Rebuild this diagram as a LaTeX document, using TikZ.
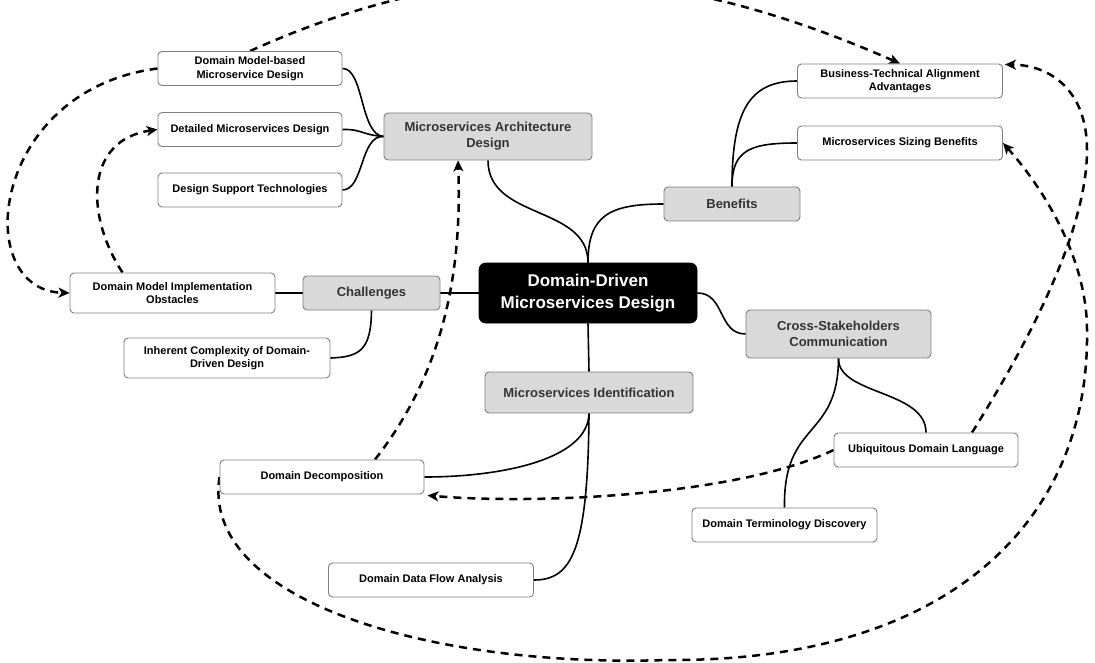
\documentclass[tikz,border=0pt]{standalone}
\usepackage{fontspec}
\setmainfont{Liberation Sans}
\usetikzlibrary{arrows.meta,backgrounds,calc}
\definecolor{boxgray}{HTML}{D9D9D9}
\definecolor{edgegray}{HTML}{808080}
\definecolor{textgray}{HTML}{333333}
\begin{document}
\begin{tikzpicture}[x=1pt,y=-1pt,
 base/.style={draw=edgegray, line width=0.9pt, rounded corners=4pt, align=center, inner sep=0pt},
 leaf/.style={base, fill=white, text=black, font=\fontsize{11}{13.5}\selectfont\bfseries},
 topic/.style={base, fill=boxgray, text=textgray, font=\fontsize{13}{16}\selectfont\bfseries},
 root/.style={base, draw=black, fill=black, text=white, rounded corners=7pt, font=\fontsize{17}{22}\selectfont\bfseries},
 link/.style={line width=1.6pt, draw=black},
 xref/.style={line width=2.5pt, draw=black, dash pattern=on 8pt off 6pt, -{Stealth[length=11pt,width=10pt,inset=3pt]}},
]
\useasboundingbox (0,0) rectangle (1095,663);

% nodes
\node[root, minimum width=218, minimum height=60] (Root) at (588,293) {Domain-Driven\\Microservices Design};
\node[topic, minimum width=208, minimum height=47] (MAD) at (488,136.5) {Microservices Architecture\\Design};
\node[topic, minimum width=136, minimum height=34] (Ben) at (732,204) {Benefits};
\node[topic, minimum width=137, minimum height=34] (Chal) at (371.5,293) {Challenges};
\node[topic, minimum width=185, minimum height=48] (CS) at (838.5,334) {Cross-Stakeholders\\Communication};
\node[topic, minimum width=208, minimum height=41] (MI) at (589,392.5) {Microservices Identification};

\node[leaf, minimum width=184, minimum height=34] (DMB) at (250,68.5) {Domain Model-based\\Microservice Design};
\node[leaf, minimum width=184, minimum height=34] (DMD) at (250,129.5) {Detailed Microservices Design};
\node[leaf, minimum width=184, minimum height=34] (DST) at (250,190) {Design Support Technologies};
\node[leaf, minimum width=205, minimum height=34] (BTA) at (900,81) {Business-Technical Alignment\\Advantages};
\node[leaf, minimum width=205, minimum height=34] (MSB) at (900,143) {Microservices Sizing Benefits};
\node[leaf, minimum width=205, minimum height=40] (DMIO) at (172.5,293) {Domain Model Implementation\\Obstacles};
\node[leaf, minimum width=206, minimum height=40] (ICDD) at (227,358) {Inherent Complexity of Domain-\\Driven Design};
\node[leaf, minimum width=184, minimum height=34] (UDL) at (926,450) {Ubiquitous Domain Language};
\node[leaf, minimum width=204, minimum height=34] (DD) at (322,477) {Domain Decomposition};
\node[leaf, minimum width=185, minimum height=34] (DTD) at (784.5,525) {Domain Terminology Discovery};
\node[leaf, minimum width=205, minimum height=34] (DDFA) at (431,580) {Domain Data Flow Analysis};

\begin{pgfonlayer}{background}
\fill[white] (0,0) rectangle (1095,663);
% solid tree links
\draw[link] (Root.north) .. controls (588,205) and (488,220) .. (MAD.south);
\draw[link] (Root.north) .. controls (588,215) and (610,204) .. (Ben.west);
\draw[link] (Ben.north) .. controls (732,110) and (750,81) .. (BTA.west);
\draw[link] (Ben.north) .. controls (732,150) and (750,143) .. (MSB.west);
\draw[link] (DMB.east) .. controls (364,68) and (360,135) .. (MAD.west);
\draw[link] (DMD.east) .. controls (362,129) and (362,135) .. (MAD.west);
\draw[link] (DST.east) .. controls (364,190) and (360,135) .. (MAD.west);
\draw[link] (Root.west) -- (Chal.east);
\draw[link] (Chal.west) -- (DMIO.east);
\draw[link] (Chal.south) .. controls (371,350) and (360,357) .. (ICDD.east);
\draw[link] (Root.east) .. controls (725,293) and (718,334) .. (CS.west);
\draw[link] (Root.south) -- (MI.north);
\draw[link] (MI.south) .. controls (588,460) and (500,477) .. (DD.east);
\draw[link] (MI.south) .. controls (588,550) and (572,580) .. (DDFA.east);
\draw[link] (CS.south) .. controls (838,395) and (926,390) .. (UDL.north);
\draw[link] (CS.south) .. controls (838,440) and (783,420) .. (DTD.north);
% dashed cross references
\draw[xref] (DMB.north) .. controls (470,-48) and (660,-42) .. (BTA.north);
\draw[xref] (DMB.west) .. controls (-10,90) and (-30,290) .. (DMIO.west);
\draw[xref] ($(DMIO.north)+(-50,0)$) .. controls (85,215) and (85,140) .. (DMD.west);
\draw[xref] ($(DD.north)+(53,0)$) .. controls (445,370) and (462,270) .. ($(MAD.south)+(-30,0)$);
\draw[xref] (UDL.west) .. controls (740,495) and (540,505) .. ($(DD.south east)+(3,1)$);
\draw[xref] ($(UDL.north)+(46,0)$) .. controls (1030,340) and (1087,230) .. (1087,150) .. controls (1087,90) and (1050,65) .. ($(BTA.north east)+(2,1)$);
\draw[xref] (DD.west) .. controls (200,600) and (430,668) .. (667,660) .. controls (950,662) and (1090,520) .. (1087,330) .. controls (1087,260) and (1045,190) .. (MSB.east);
\end{pgfonlayer}
\end{tikzpicture}
\end{document}
